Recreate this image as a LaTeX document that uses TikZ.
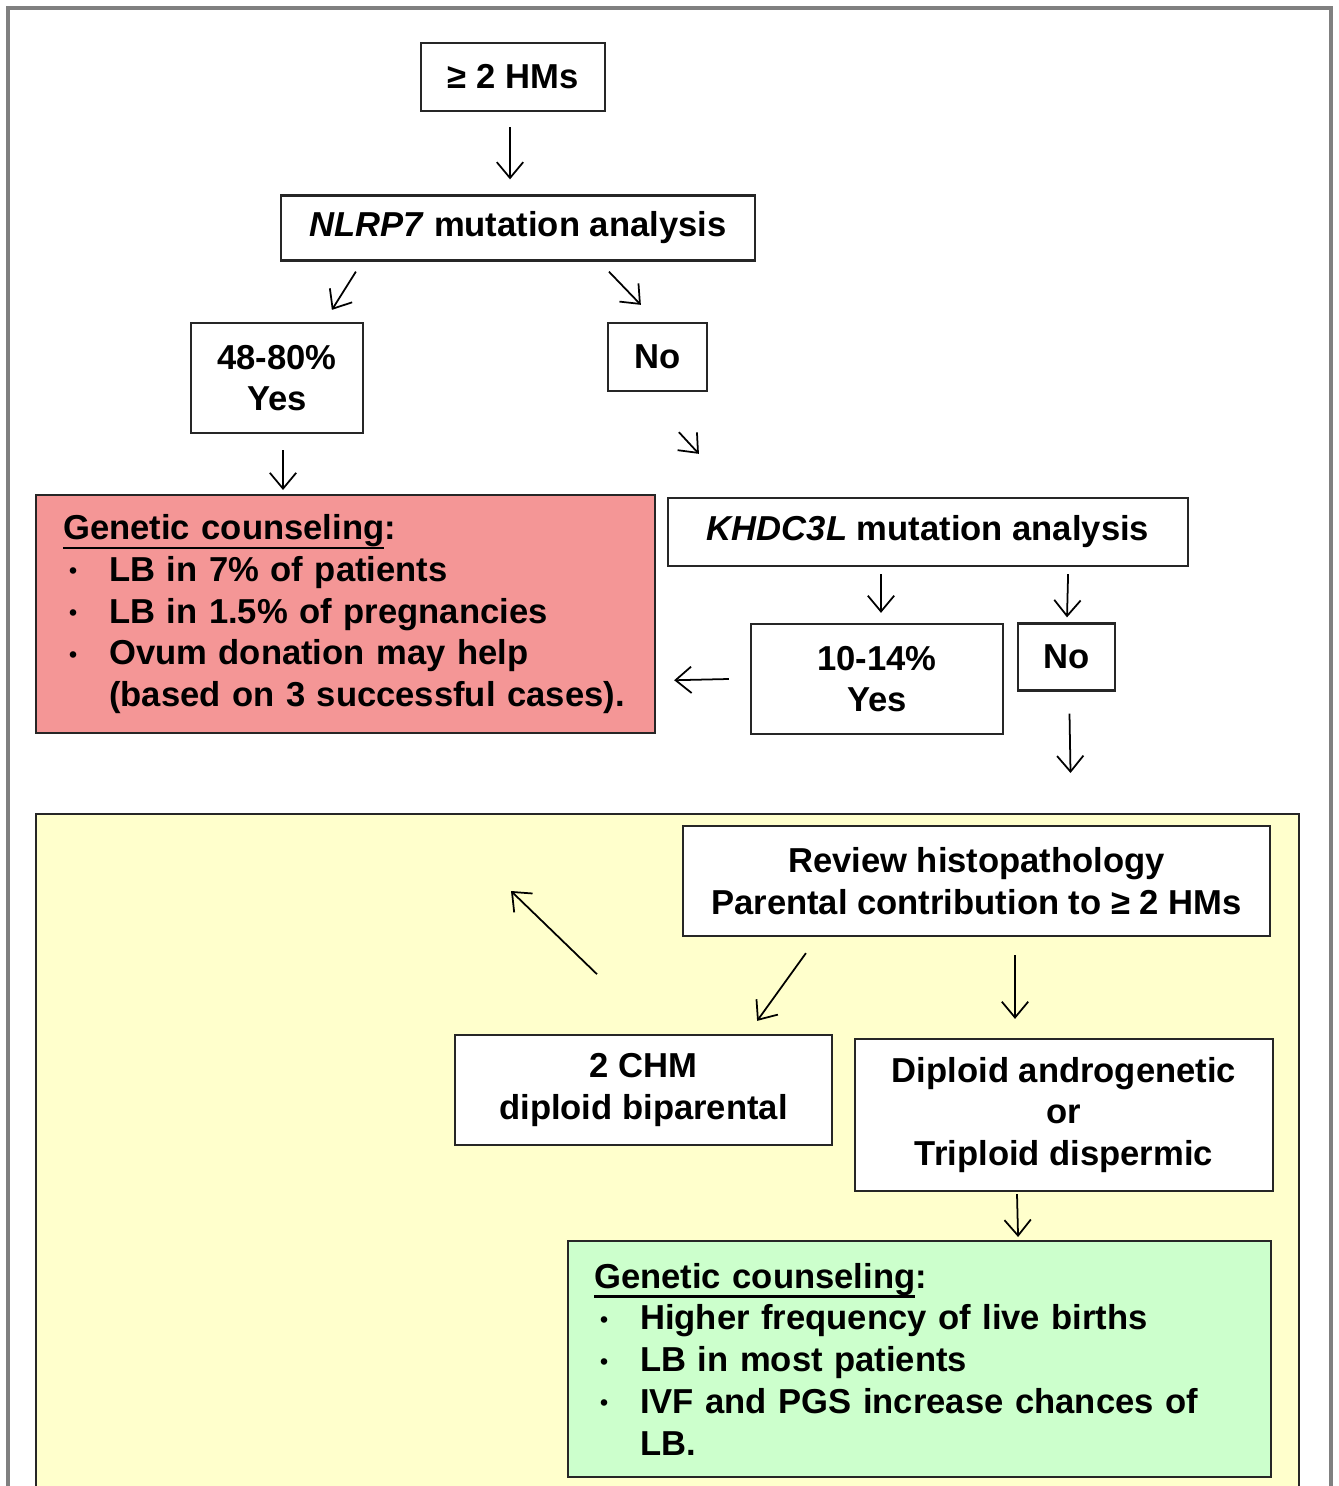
\documentclass[tikz,border=0pt]{standalone}
\usepackage{fontspec}
\setmainfont{Liberation Sans}
\usetikzlibrary{arrows.meta, calc}

\definecolor{redbox}{RGB}{244,150,150}
\definecolor{yellowbox}{RGB}{255,255,204}
\definecolor{greenbox}{RGB}{204,255,204}
\newcommand{\itm}{\makebox[0.92cm][l]{\hspace{0.12cm}\raisebox{1.5pt}{\fontsize{13}{13}\selectfont\textbullet}}}
\newcommand{\ulhead}[1]{\setbox0\hbox{#1}\rlap{\rule[-5.5pt]{\wd0}{1.3pt}}\box0}

\begin{document}
\begin{tikzpicture}[x=0.02cm, y=-0.02cm,
    box/.style={draw=black!85, line width=1.3pt, fill=white, align=center, font=\fontsize{19.7}{23.8}\selectfont\bfseries},
    listbox/.style={box, anchor=north west, align=left},
    arr/.style={-{Straight Barb[length=9pt,width=15pt]}, line width=1pt}]

    \useasboundingbox (0,0) rectangle (1338,1486);

    % Outer frame
    \draw[gray, line width=2pt] (8,1500) -- (8,8) -- (1331,8) -- (1331,1500);

    % Lower (yellow) zone
    \node[draw=black!85, line width=1pt, fill=yellowbox, anchor=north west, inner sep=0pt, minimum width=25.26cm, minimum height=13.94cm] (lowzone) at (35,813) {};

    % Start
    \node[box, minimum width=3.68cm, minimum height=1.36cm] (hms) at (513,77) {≥ 2 HMs};

    % NLRP7 test
    \node[box, minimum width=9.48cm, minimum height=1.30cm] (nlrp7) at (518,228) {\textit{NLRP7} mutation analysis};
    \node[box, minimum width=3.44cm, minimum height=2.20cm] (nlrp7_yes) at (277,378) {48-80\%\\Yes};
    \node[box, minimum width=1.98cm, minimum height=1.36cm] (nlrp7_no) at (657.5,357) {No};

    % Counseling for mutation carriers
    \node[listbox, fill=redbox, text width=11.30cm, inner xsep=0.54cm, minimum height=4.76cm] (counsel_red) at (35,494) {
        \ulhead{Genetic counseling}:\\
        \itm LB in 7\% of patients\\
        \itm LB in 1.5\% of pregnancies\\
        \itm Ovum donation may help\\
        \hspace*{0.92cm}(based on 3 successful cases).
    };

    % KHDC3L test
    \node[box, minimum width=10.40cm, minimum height=1.36cm] (khdc3l) at (928,532) {\textit{KHDC3L} mutation analysis};
    \node[box, minimum width=5.04cm, minimum height=2.20cm] (khdc3l_yes) at (877,679) {10-14\%\\Yes};
    \node[box, minimum width=1.94cm, minimum height=1.34cm] (khdc3l_no) at (1066.5,657) {No};

    % Review of the moles
    \node[box, minimum width=11.74cm, minimum height=2.20cm] (review) at (976.5,881) {Review histopathology\\Parental contribution to ≥ 2 HMs};
    \node[box, minimum width=7.54cm, minimum height=2.20cm] (chm) at (643.5,1090) {2 CHM\\diploid biparental};
    \node[box, minimum width=8.36cm, minimum height=3.04cm] (diploid) at (1064,1115) {Diploid androgenetic\\or\\Triploid dispermic};

    % Counseling for the other cases
    \node[listbox, fill=greenbox, text width=13.02cm, inner xsep=0.52cm, minimum height=4.72cm] (counsel_green) at (567,1240) {
        \ulhead{Genetic counseling}:\\
        \itm Higher frequency of live births\\
        \itm LB in most patients\\
        \itm IVF and PGS increase chances of\\
        \hspace*{0.92cm}LB.
    };

    \coordinate (back_up) at (511,891);

    % Arrows
    \draw[arr] ($(hms.south)+(-3,15)$) -- ($(nlrp7.north)+(-8,-15)$);
    \draw[arr] ($(nlrp7.south west)+(76,10)$) -- ($(nlrp7_yes.north west)+(142,-12)$);
    \draw[arr] ($(nlrp7.south west)+(329,10)$) -- ($(nlrp7_no.north west)+(34,-17)$);
    \draw[arr] ($(nlrp7_no.south west)+(72,40)$) -- ($(khdc3l.north west)+(32,-43)$);
    \draw[arr] ($(nlrp7_yes.south)+(6,16)$) -- ($(counsel_red.north west)+(248,-4)$);
    \draw[arr] ($(khdc3l.south)+(-47,7)$) -- ($(khdc3l_yes.north)+(4,-10)$);
    \draw[arr] ($(khdc3l.south east)+(-121,7)$) -- ($(khdc3l_no.north)+(0.5,-5)$);
    \draw[arr] ($(khdc3l_yes.west)+(-21,0)$) -- ($(counsel_red.south east)+(18,-54)$);
    \draw[arr] ($(khdc3l_no.south)+(3,22)$) -- ($(lowzone.north east)+(-229,-40)$);
    \draw[arr] ($(review.south west)+(-85,37)$) -- (back_up);
    \draw[arr] ($(review.south west)+(124,16)$) -- ($(chm.north east)+(-76,-13)$);
    \draw[arr] ($(review.south)+(38.5,18)$) -- ($(diploid.north)+(-49,-19)$);
    \draw[arr] ($(diploid.south)+(-47,2)$) -- ($(counsel_green.north)+(98.5,-3)$);

\end{tikzpicture}
\end{document}
